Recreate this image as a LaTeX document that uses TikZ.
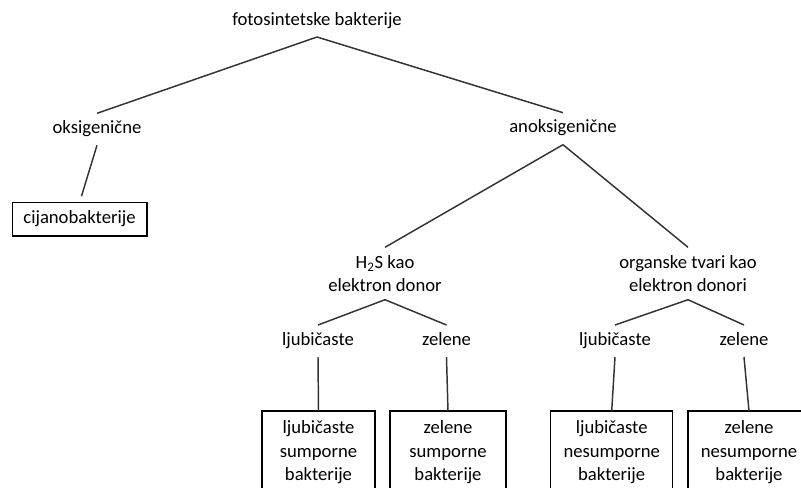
\documentclass[tikz,border=0pt]{standalone}
\usepackage{fontspec}
\setmainfont{Carlito}
\usepackage{tikz}

\begin{document}
\begin{tikzpicture}[x=0.75pt, y=-0.75pt,
  every node/.style={font=\fontsize{14}{17.5}\selectfont, inner xsep=3pt, outer sep=0pt},
  word node/.style={text height=9.5pt, text depth=3.5pt, inner ysep=5.5pt, anchor=base},
  two node/.style={align=center, inner ysep=6pt},
  leaf node/.style={draw, line width=1pt, align=center, anchor=north, inner ysep=6.5pt,
                    minimum height=62pt, text width=#1},
  link/.style={line width=1.1pt, black!80}]
\useasboundingbox (0,0) rectangle (801,487);
\clip (0,0) rectangle (801,487);

% gornja razina
\node[word node] (fb) at (317,25)    {fotosintetske bakterije};
\node[word node] (ok) at (97,133.3)  {oksigenične};
\node[word node] (an) at (563,132.7) {anoksigenične};
\node[word node, draw, line width=1pt, minimum width=101pt, inner ysep=6pt] (ci) at (79.5,223.3) {cijanobakterije};

% donori elektrona
\node[two node] (hs) at (385,273.5) {H\textsubscript{2}S kao\\elektron donor};
\node[two node] (ot) at (688,273.5) {organske tvari kao\\elektron donori};

% boje
\node[word node] (lj1) at (318,345)   {ljubičaste};
\node[word node] (ze1) at (446.5,345) {zelene};
\node[word node] (lj2) at (615,345)   {ljubičaste};
\node[word node] (ze2) at (744,345)   {zelene};

% listovi
\node[leaf node=78.75pt] (ljs) at (318.5,411) {ljubičaste\\sumporne\\bakterije};
\node[leaf node=81pt]    (zes) at (448,411)   {zelene\\sumporne\\bakterije};
\node[leaf node=85.5pt]  (ljn) at (611.7,411) {ljubičaste\\nesumporne\\bakterije};
\node[leaf node=85.5pt]  (zen) at (749,411)   {zelene\\nesumporne\\bakterije};

\path[link]
(fb.south)  edge (ok.north)
            edge (an.north)
(ok.south)  edge[shorten >=5pt] (ci.north)
(an.south)  edge (hs.north)
            edge (ot.north)
(hs.south)  edge (lj1.north)
            edge (ze1.north)
(ot.south)  edge (lj2.north)
            edge (ze2.north)
(lj1.south) edge (ljs.north)
(ze1.south) edge (zes.north)
(lj2.south) edge (ljn.north)
(ze2.south) edge (zen.north);
\end{tikzpicture}
\end{document}
